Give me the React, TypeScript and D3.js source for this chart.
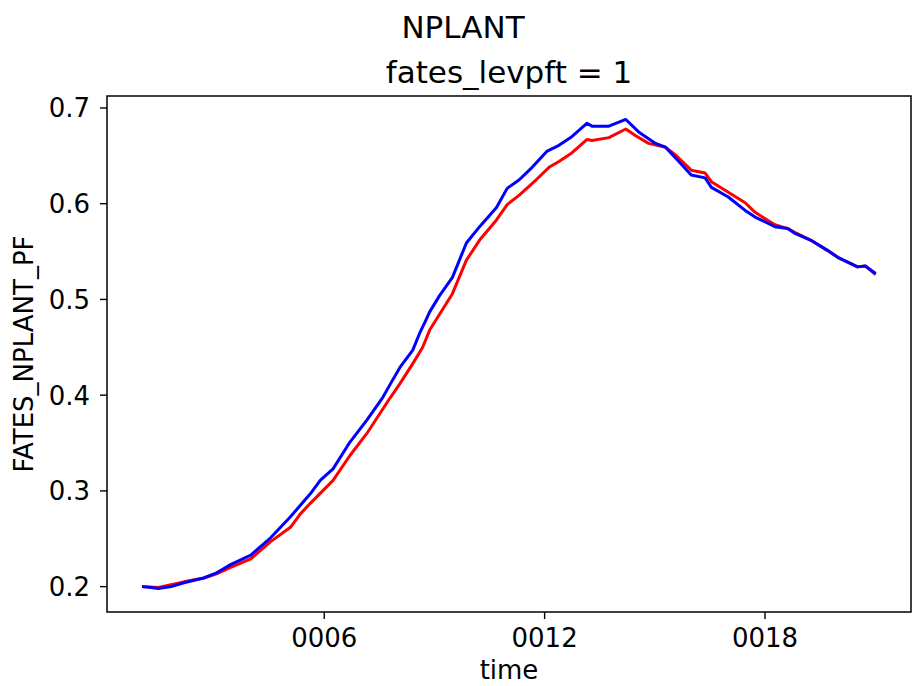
import React from "react";
import * as d3 from "d3";

// time in fractional model years
const redYears = [1.08, 1.48, 2.18, 2.72, 3.05, 3.45, 4.0, 4.54, 5.08, 5.35, 5.62, 6.24, 6.7, 7.16, 7.79, 8.06, 8.41, 8.68, 8.87, 9.49, 9.87, 10.23, 10.69, 10.98, 11.31, 11.77, 12.12, 12.39, 12.74, 13.15, 13.29, 13.75, 14.21, 14.48, 14.83, 15.29, 15.56, 15.99, 16.37, 16.54, 17.0, 17.46, 17.73, 18.27, 18.62, 18.81, 19.24, 19.71, 19.98, 20.52, 20.73, 20.98];
const redValues = [0.2, 0.199, 0.205, 0.209, 0.213, 0.22, 0.229, 0.247, 0.262, 0.276, 0.287, 0.311, 0.337, 0.36, 0.397, 0.412, 0.433, 0.45, 0.468, 0.506, 0.541, 0.562, 0.583, 0.599, 0.609, 0.625, 0.638, 0.644, 0.653, 0.667, 0.666, 0.669, 0.678, 0.671, 0.663, 0.659, 0.651, 0.635, 0.632, 0.623, 0.612, 0.601, 0.591, 0.578, 0.574, 0.57, 0.562, 0.551, 0.544, 0.534, 0.535, 0.527];

const blueYears = [1.08, 1.29, 1.48, 1.83, 2.18, 2.72, 3.05, 3.45, 4.0, 4.54, 5.08, 5.35, 5.62, 5.89, 6.24, 6.7, 7.16, 7.6, 7.79, 8.06, 8.41, 8.6, 8.74, 8.87, 9.14, 9.49, 9.87, 10.23, 10.69, 10.98, 11.31, 11.66, 12.07, 12.39, 12.74, 13.15, 13.29, 13.75, 14.21, 14.56, 15.02, 15.29, 15.56, 15.99, 16.37, 16.54, 17.0, 17.46, 17.73, 18.27, 18.62, 18.81, 19.24, 19.71, 19.98, 20.52, 20.73, 20.98];
const blueValues = [0.2, 0.199, 0.198, 0.2, 0.204, 0.209, 0.214, 0.223, 0.233, 0.251, 0.273, 0.285, 0.297, 0.311, 0.323, 0.351, 0.374, 0.398, 0.411, 0.429, 0.447, 0.465, 0.476, 0.487, 0.504, 0.523, 0.559, 0.576, 0.596, 0.616, 0.625, 0.638, 0.655, 0.661, 0.67, 0.684, 0.681, 0.681, 0.688, 0.675, 0.663, 0.659, 0.648, 0.63, 0.627, 0.617, 0.607, 0.593, 0.586, 0.576, 0.574, 0.569, 0.562, 0.551, 0.544, 0.534, 0.535, 0.528];

const xTicks = [6, 12, 18];
const yTicks = [0.2, 0.3, 0.4, 0.5, 0.6, 0.7];

const suptitle = "NPLANT";
const axTitle = "fates_levpft = 1";
const xLabel = "time";
const yLabel = "FATES_NPLANT_PF";

const W = 912;
const H = 686;
const L = 107, R = 911, T = 96, B = 612;
const FONT = "DejaVu Sans, sans-serif";

export default function App() {
  const allX = [...redYears, ...blueYears];
  const allY = [...redValues, ...blueValues];
  const [x0, x1] = d3.extent(allX) as [number, number];
  const [y0, y1] = d3.extent(allY) as [number, number];
  const px = (x1 - x0) * 0.05;
  const py = (y1 - y0) * 0.05;
  const x = d3.scaleLinear().domain([x0 - px, x1 + px]).range([L, R]);
  const y = d3.scaleLinear().domain([y0 - py, y1 + py]).range([B, T]);

  const line = d3.line<[number, number]>().x((d) => x(d[0])).y((d) => y(d[1]));
  const red = line(redYears.map((t, i) => [t, redValues[i]]) as [number, number][]) || "";
  const blue = line(blueYears.map((t, i) => [t, blueValues[i]]) as [number, number][]) || "";
  const fx = d3.format("04d");
  const fy = d3.format(".1f");

  return (
    <svg width={W} height={H} style={{ position: "absolute", left: 0, top: 0, background: "#fff" }} fontFamily={FONT}>
      <rect x={0} y={0} width={W} height={H} fill="#fff" />
      <text x={463} y={38} fontSize={31} textAnchor="middle" fill="#000">{suptitle}</text>
      <text x={(L + R) / 2} y={83} fontSize={31} textAnchor="middle" fill="#000">{axTitle}</text>
      <path d={red} fill="none" stroke="#ff0000" strokeWidth={3} strokeLinejoin="round" strokeLinecap="square" />
      <path d={blue} fill="none" stroke="#0000ff" strokeWidth={3} strokeLinejoin="round" strokeLinecap="square" />
      <rect x={L} y={T} width={R - L} height={B - T} fill="none" stroke="#000" strokeWidth={1.5} />
      {yTicks.map((v) => (
        <g key={v}>
          <line x1={L - 7} x2={L} y1={y(v)} y2={y(v)} stroke="#000" strokeWidth={1.4} />
          <text x={L - 17} y={y(v)} dy="0.36em" fontSize={26} textAnchor="end" fill="#000">{fy(v)}</text>
        </g>
      ))}
      {xTicks.map((v) => (
        <g key={v}>
          <line x1={x(v)} x2={x(v)} y1={B} y2={B + 7} stroke="#000" strokeWidth={1.4} />
          <text x={x(v)} y={647} fontSize={26} textAnchor="middle" fill="#000">{fx(v)}</text>
        </g>
      ))}
      <text x={(L + R) / 2} y={679} fontSize={26} textAnchor="middle" fill="#000">{xLabel}</text>
      <text transform={`translate(33, ${(T + B) / 2}) rotate(-90)`} fontSize={26} textAnchor="middle" fill="#000">{yLabel}</text>
    </svg>
  );
}
